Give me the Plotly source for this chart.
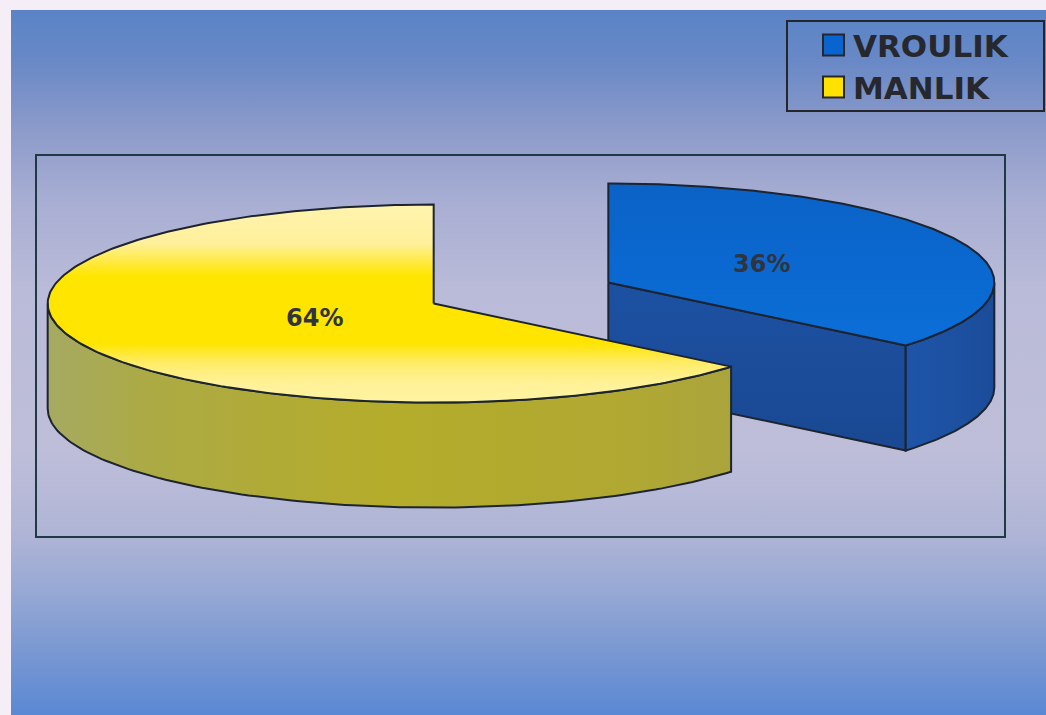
import numpy as np
import plotly.graph_objects as go

# ---- data ----
categories = ["VROULIK", "MANLIK"]
values = [36, 64]
value_labels = ["36%", "64%"]

# ---- styling ----
W, H = 1046, 715
CX, CY = 521, 293          # pie centre (pixel space)
RX, RY = 386, 99           # ellipse radii of the tilted pie
DEPTH = 105                # thickness of the pie
EXPLODE = [0.25, 0.25]     # fraction of the radius each slice is pulled out
LABEL_R = [0.44, 0.34]     # where the percentage sits along the mid-angle
START = 90.0               # first slice starts at 12 o'clock, runs clockwise
EDGE = "#1c2430"

top_scales = [
    [[0.0, "#0b62c6"], [0.5, "#0a68d0"], [1.0, "#0b6ed6"]],
    [[0.0, "#fff4b0"], [0.20, "#fff09a"], [0.29, "#ffea40"], [0.36, "#ffe600"],
     [0.70, "#ffe500"], [0.80, "#ffec68"], [0.90, "#fff298"], [1.0, "#fff3a2"]],
]
side_scales = [
    [[0.0, "#1e55a8"], [1.0, "#1b4c9a"]],
    [[0.0, "#a6aa62"], [0.15, "#acaa44"], [0.5, "#b4ac2a"], [0.85, "#b0a832"], [1.0, "#aaa43c"]],
]
face_scales = [
    [[0.0, "#1c51a2"], [1.0, "#1a4892"]],
    [[0.0, "#b0a830"], [1.0, "#a8a040"]],
]
swatch_colors = ["#0a64d0", "#ffe200"]

fig = go.Figure()

# page background: vertical blue -> lavender -> blue wash
bg_x = [11, W, W, 11, 11]
bg_y = [10, 10, H, H, 10]
fig.add_trace(go.Scatter(
    x=bg_x, y=bg_y, mode="lines", fill="toself", line=dict(width=0),
    fillgradient=dict(type="vertical", start=10, stop=H, colorscale=[
        [0.0, "#5a84c6"], [0.07, "#6888c6"], [0.17, "#8c9bca"], [0.27, "#a8aed3"],
        [0.40, "#babbd8"], [0.62, "#bebed9"], [0.74, "#b0b5d6"], [0.83, "#95a8d4"],
        [0.92, "#7696d2"], [1.0, "#5a88d4"]]),
    hoverinfo="skip"))


def ell(t_deg, cx, cy, dz=0.0):
    t = np.radians(t_deg)
    return cx + RX * np.cos(t), cy - RY * np.sin(t) + dz


def poly(xs, ys, scale, kind, lo, hi):
    xs = list(xs) + [xs[0]]
    ys = list(ys) + [ys[0]]
    fig.add_trace(go.Scatter(
        x=xs, y=ys, mode="lines", fill="toself",
        line=dict(color=EDGE, width=2),
        fillgradient=dict(type=kind, start=lo, stop=hi, colorscale=scale),
        hoverinfo="skip"))


# slice angles (clockwise from the top)
total = float(sum(values))
slices = []
t_hi = START
for i, v in enumerate(values):
    span = 360.0 * v / total
    t_lo = t_hi - span
    mid = (t_lo + t_hi) / 2.0
    m = np.radians(mid)
    cx = CX + EXPLODE[i] * RX * np.cos(m)
    cy = CY - EXPLODE[i] * RY * np.sin(m)
    slices.append(dict(i=i, lo=t_lo, hi=t_hi, mid=mid, cx=cx, cy=cy))
    t_hi = t_lo

# paint back-to-front
for s in sorted(slices, key=lambda d: d["cy"]):
    i, lo, hi, cx, cy = s["i"], s["lo"], s["hi"], s["cx"], s["cy"]

    # radial cut faces that turn toward the viewer
    for edge_t, vis in ((lo, np.cos(np.radians(lo)) > 1e-6),
                        (hi, np.cos(np.radians(hi)) < -1e-6)):
        if vis:
            rx, ry = ell(edge_t, cx, cy)
            xs = [cx, rx, rx, cx]
            ys = [cy, ry, ry + DEPTH, cy + DEPTH]
            poly(xs, ys, face_scales[i], "vertical", min(ys), max(ys))

    # curved outer wall on the front half of the ellipse
    for k in range(-2, 2):
        a0 = max(lo, 180 + 360 * k)
        a1 = min(hi, 360 + 360 * k)
        if a1 - a0 > 0.01:
            tt = np.linspace(a0, a1, 120)
            tx, ty = ell(tt, cx, cy)
            xs = np.concatenate([tx, tx[::-1]])
            ys = np.concatenate([ty, (ty + DEPTH)[::-1]])
            poly(xs, ys, side_scales[i], "horizontal", xs.min(), xs.max())

    # top face
    tt = np.linspace(hi, lo, 240)
    tx, ty = ell(tt, cx, cy)
    xs = np.concatenate([[cx], tx])
    ys = np.concatenate([[cy], ty])
    poly(xs, ys, top_scales[i], "vertical", ys.min(), ys.max())

# percentage labels
for s in slices:
    i = s["i"]
    m = np.radians(s["mid"])
    fig.add_annotation(
        x=s["cx"] + LABEL_R[i] * RX * np.cos(m),
        y=s["cy"] - LABEL_R[i] * RY * np.sin(m),
        text=value_labels[i], showarrow=False,
        font=dict(family="DejaVu Sans", size=24, color="#30343c", weight="bold"))

shapes = [
    # plot frame
    dict(type="rect", x0=36, y0=155, x1=1005, y1=537,
         line=dict(color="#1f3a44", width=2)),
    # legend frame
    dict(type="rect", x0=787, y0=21, x1=1044, y1=111,
         line=dict(color="#24262c", width=2)),
]
leg_y = [45, 87]
for i, name in enumerate(categories):
    shapes.append(dict(type="rect", x0=823, x1=844, y0=leg_y[i] - 10.5, y1=leg_y[i] + 10.5,
                       fillcolor=swatch_colors[i], line=dict(color="#25272c", width=2)))
    fig.add_annotation(x=852, y=leg_y[i] + 1, xanchor="left", yanchor="middle",
                       text=name, showarrow=False, borderpad=0,
                       font=dict(family="DejaVu Sans", size=31, color="#26282e", weight="bold"))

fig.update_layout(
    width=W, height=H, margin=dict(l=0, r=0, t=0, b=0),
    paper_bgcolor="#f6eef6", plot_bgcolor="#f6eef6",
    showlegend=False, shapes=shapes,
    xaxis=dict(range=[0, W], visible=False, fixedrange=True),
    yaxis=dict(range=[H, 0], visible=False, fixedrange=True),
)

fig.write_html("out.html")
